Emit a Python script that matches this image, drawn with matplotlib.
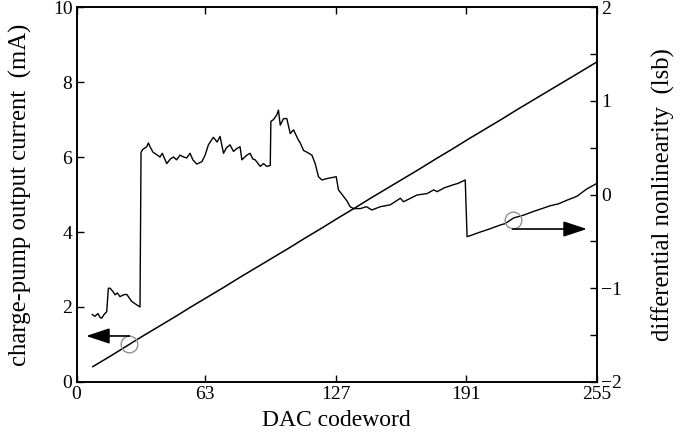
import numpy as np
import matplotlib
matplotlib.use("Agg")
import matplotlib.pyplot as plt

plt.rcParams['font.family'] = ['Liberation Serif', 'DejaVu Serif']
plt.rcParams['mathtext.fontset'] = 'stix'

# output current (left axis, mA) vs DAC codeword
cur_code = [8, 16, 24, 32, 40, 48, 56, 64, 72, 80, 88, 96, 104, 112, 120,
            128, 136, 144, 152, 160, 168, 176, 184, 192, 200, 208, 216, 224,
            232, 240, 248, 255]
cur_ma = [0.41, 0.67, 0.94, 1.21, 1.47, 1.73, 2.00, 2.26, 2.52, 2.79, 3.05,
          3.31, 3.57, 3.84, 4.10, 4.37, 4.63, 4.90, 5.16, 5.42, 5.68, 5.95,
          6.21, 6.48, 6.74, 7.00, 7.27, 7.53, 7.79, 8.05, 8.31, 8.54]

# differential nonlinearity (right axis, lsb)
dnl_code = [7.7, 9, 10.5, 11.5, 12.3, 13.5, 14.8, 15.6, 16.5, 18.0, 18.9,
            20.0, 21.3, 23.0, 24.6, 27.0, 29.0, 31.1, 31.6, 32.4, 34.4, 35.2,
            36.0, 37.5, 39.0, 40.9, 42.0, 44.2, 46.0, 47.5, 49.0, 50.7, 52.5,
            54.0, 55.6, 57.0, 58.9, 61.4, 63.0, 64.6, 67.0, 68.9, 70.3, 72.0,
            73.5, 75.2, 76.9, 78.5, 80.1, 81.0, 83.4, 85.0, 86.3, 87.5, 90.0,
            91.6, 93.2, 94.9, 95.2, 96.5, 98.1, 98.9, 99.8, 101.4, 103.0,
            104.7, 106.3, 108.7, 109.6, 111.2, 113.0, 115.3, 116.9, 118.5,
            120.2, 122.6, 125.0, 127.2, 128.3, 130.8, 132.5, 134.0, 135.7,
            139.0, 142.0, 144.7, 148.8, 153.7, 158.6, 160.2, 166.8, 171.7,
            175.0, 176.6, 180.0, 184.0, 187.0, 190.4, 191.3, 194.0, 197.8,
            202.0, 207.6, 210.0, 214.1, 219.0, 223.9, 228.0, 232.0, 236.0,
            240.3, 245.0, 250.0, 255.0]
dnl_lsb = [-1.28, -1.30, -1.27, -1.31, -1.32, -1.28, -1.25, -1.00, -1.00,
           -1.04, -1.07, -1.05, -1.09, -1.07, -1.065, -1.14, -1.17, -1.20,
           0.45, 0.48, 0.51, 0.55, 0.51, 0.45, 0.43, 0.40, 0.44, 0.33, 0.38,
           0.40, 0.37, 0.42, 0.40, 0.39, 0.44, 0.37, 0.325, 0.35, 0.42, 0.53,
           0.61, 0.56, 0.62, 0.44, 0.50, 0.53, 0.46, 0.49, 0.51, 0.37, 0.42,
           0.44, 0.38, 0.37, 0.30, 0.33, 0.30, 0.31, 0.78, 0.80, 0.85, 0.90,
           0.74, 0.81, 0.81, 0.65, 0.69, 0.58, 0.55, 0.47, 0.45, 0.42, 0.33,
           0.19, 0.155, 0.17, 0.18, 0.19, 0.05, -0.02, -0.07, -0.13, -0.15,
           -0.15, -0.13, -0.165, -0.13, -0.11, -0.04, -0.077, -0.005, 0.01,
           0.05, 0.03, 0.07, 0.10, 0.12, 0.155, -0.45, -0.43, -0.40, -0.37,
           -0.325, -0.31, -0.25, -0.22, -0.18, -0.15, -0.12, -0.10, -0.06,
           -0.02, 0.06, 0.12]

xticks = [0, 63, 127, 191, 255]

fig = plt.figure(figsize=(6.85, 4.38), dpi=100)
ax = fig.add_axes([0.1117, 0.1279, 0.76, 0.856])
ax2 = ax.twinx()

ax.plot(cur_code, cur_ma, color='black', lw=1.1)
ax2.plot(dnl_code, dnl_lsb, color='black', lw=1.0)

ax.set_xlim(0, 255)
ax.set_ylim(0, 10)
ax2.set_ylim(-2, 2)
ax.set_xticks(xticks)
ax.set_yticks([0, 2, 4, 6, 8, 10])
ax2.set_yticks([-2, -1, 0, 1, 2])
ax2.set_yticks([-1.5, -0.5, 0.5, 1.5], minor=True)
ax2.set_yticklabels(['\u22122', '\u22121', '0', '1', '2'])

for a in (ax, ax2):
    a.tick_params(direction='in', length=5, width=1, labelsize=14, pad=3)
    a.tick_params(which='minor', direction='in', length=5, width=1)
    for s in a.spines.values():
        s.set_linewidth(1.2)
ax.tick_params(top=True)

ax.set_xlabel('DAC codeword', fontsize=17, labelpad=5)
ax.set_ylabel('charge-pump output current  (mA)', fontsize=17.8, labelpad=15)
ax2.set_ylabel('differential nonlinearity  (lsb)', fontsize=17.8, labelpad=21)

# circles and arrows marking which curve belongs to which axis
ax.plot([25.9], [1.0], 'o', ms=12, mfc='none', mec='#909090', mew=1.0)
ax2.plot([213.6], [-0.27], 'o', ms=12, mfc='none', mec='#909090', mew=1.0)
astyle = dict(arrowstyle='-|>,head_length=1.0,head_width=0.33',
              mutation_scale=14.5, color='black', lw=1.2,
              shrinkA=0, shrinkB=0)
ax.annotate('', xy=(4.7, 1.227), xytext=(25.9, 1.227), arrowprops=astyle)
ax2.annotate('', xy=(250, -0.368), xytext=(213.6, -0.368), arrowprops=astyle)

fig.savefig('out.png', dpi=100)
